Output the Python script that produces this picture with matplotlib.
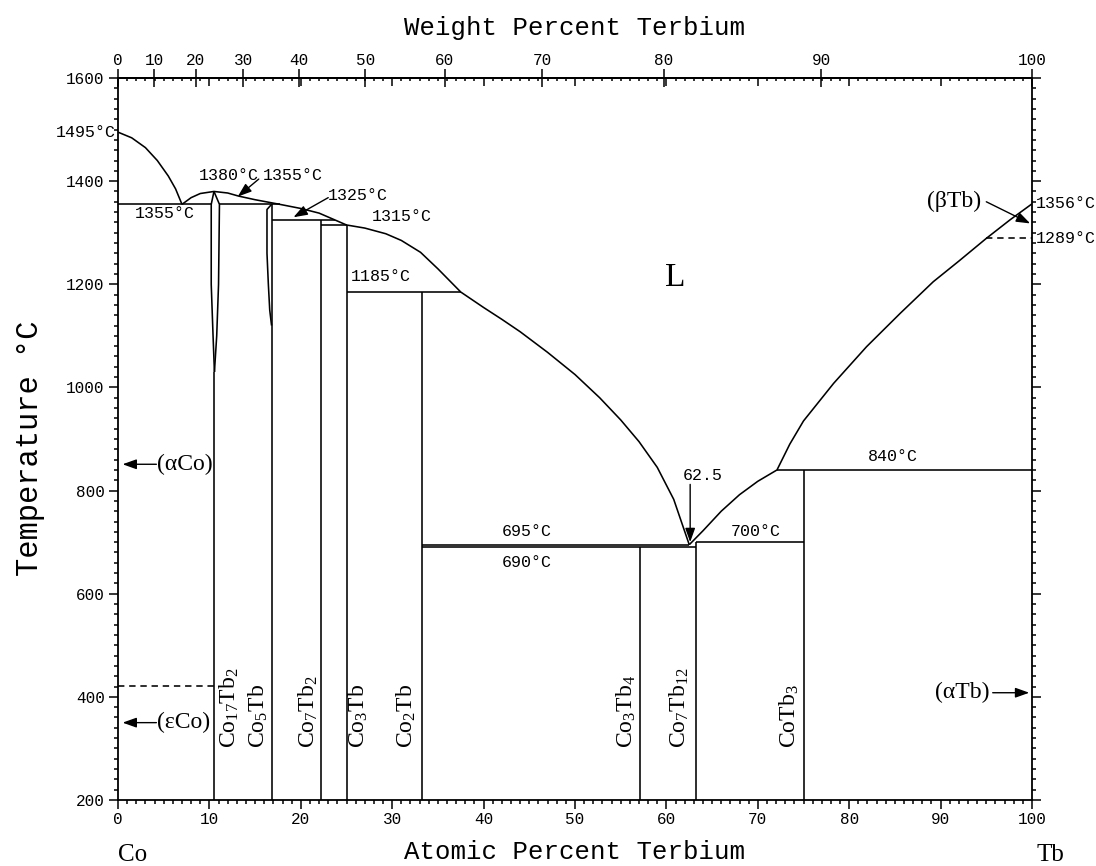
import numpy as np
import matplotlib.pyplot as plt
from matplotlib.ticker import MultipleLocator, NullLocator

plt.rcParams['font.family'] = 'Liberation Mono'
plt.rcParams['mathtext.fontset'] = 'custom'
plt.rcParams['mathtext.rm'] = 'Liberation Serif'
plt.rcParams['mathtext.it'] = 'Liberation Serif:italic'
plt.rcParams['mathtext.bf'] = 'Liberation Serif:bold'

M_CO = 58.933
M_TB = 158.925

# liquidus, Co side down to the first eutectic
liq_co_x = [0, 1.5, 3, 4.3, 5.5, 6.3, 7]
liq_co_t = [1495, 1484, 1465, 1440, 1410, 1385, 1355]

# liquidus from the Co-rich eutectic over Co17Tb2 down to the 62.5 eutectic
liq_mid_x = [7, 8, 9, 10.5, 12, 13.2, 15, 17.7, 20, 22, 23.7, 25, 27, 29.3, 31,
             33.1, 35, 37.5, 40, 42, 44, 47, 50, 52.7, 55, 57, 59, 60.8, 62.5]
liq_mid_t = [1355, 1368, 1376, 1380, 1377, 1371, 1364, 1355, 1347, 1338, 1325,
             1315, 1309, 1298, 1285, 1262, 1230, 1185, 1155, 1132, 1108, 1068,
             1025, 980, 937, 895, 845, 783, 695]

# liquidus, Tb side
liq_tb_x = [62.5, 64, 66, 68, 70, 72.1, 73.5, 75, 78.3, 81.9, 85.6, 89.2, 92,
            95, 97.6, 100]
liq_tb_t = [695, 722, 760, 792, 818, 840, 890, 935, 1008, 1079, 1144, 1205,
            1245, 1289, 1325, 1356]

# Co17Tb2 homogeneity range
co17_left_x = [10.5, 10.2, 10.2, 10.4, 10.55]
co17_left_t = [1380, 1355, 1200, 1100, 1030]
co17_right_x = [10.5, 11.1, 11.0, 10.8, 10.55]
co17_right_t = [1380, 1355, 1200, 1100, 1030]

# Co5Tb left boundary
co5_left_x = [16.8, 16.3, 16.3, 16.45, 16.6, 16.8]
co5_left_t = [1355, 1345, 1260, 1200, 1150, 1120]

# invariant lines: (x start, x end, temperature)
iso_x0 = [0, 11.1, 16.8, 22.2, 25.0, 33.3, 33.3, 63.2, 72.1]
iso_x1 = [10.2, 17.7, 23.7, 25.0, 37.5, 62.5, 63.2, 75.0, 100]
iso_t = [1355, 1355, 1325, 1315, 1185, 695, 690, 700, 840]

# compound lines: (composition, top temperature)
comp_x = [10.55, 16.8, 22.2, 25.0, 33.3, 57.1, 63.2, 75.0]
comp_top = [1030, 1355, 1325, 1315, 1185, 690, 700, 840]
comp_names = [r'Co$_{17}$Tb$_2$', r'Co$_5$Tb', r'Co$_7$Tb$_2$', r'Co$_3$Tb',
              r'Co$_2$Tb', r'Co$_3$Tb$_4$', r'Co$_7$Tb$_{12}$', r'CoTb$_3$']
comp_label_x = [12.2, 15.4, 20.8, 26.3, 31.5, 55.6, 61.4, 73.5]

# temperature labels: text, x, T, alignment
temp_labels = ['1355°C', '1380°C', '1355°C', '1325°C', '1315°C', '1185°C',
               '695°C', '690°C', '700°C', '840°C', '62.5']
temp_x = [5.1, 12.1, 15.9, 23.0, 31.0, 28.8, 44.7, 44.7, 69.8, 84.8, 64.0]
temp_t = [1338, 1411, 1411, 1372, 1332, 1215, 720, 661, 720, 866, 830]
temp_ha = ['center', 'center', 'left', 'left', 'center', 'center', 'center',
           'center', 'center', 'center', 'center']


def at_to_wt(a):
    a = np.asarray(a, dtype=float)
    with np.errstate(divide='ignore', invalid='ignore'):
        return 100 * a * M_TB / (a * M_TB + (100 - a) * M_CO)


def wt_to_at(w):
    w = np.asarray(w, dtype=float)
    with np.errstate(divide='ignore', invalid='ignore'):
        return 100 * (w / M_TB) / (w / M_TB + (100 - w) / M_CO)


fig = plt.figure(figsize=(10.96, 8.66), dpi=100)
ax = fig.add_axes([118 / 1096, 1 - 800 / 866, 914 / 1096, 722 / 866])
ax.set_xlim(0, 100)
ax.set_ylim(200, 1600)

lw = 1.15
kw = dict(color='black', lw=lw, solid_capstyle='butt')

ax.plot(liq_co_x, liq_co_t, **kw)
ax.plot(liq_mid_x, liq_mid_t, **kw)
ax.plot(liq_tb_x, liq_tb_t, **kw)
ax.plot(co17_left_x, co17_left_t, **kw)
ax.plot(co17_right_x, co17_right_t, **kw)
ax.plot(co5_left_x, co5_left_t, **kw)

for x0, x1, t in zip(iso_x0, iso_x1, iso_t):
    ax.plot([x0, x1], [t, t], **kw)

for x, top in zip(comp_x, comp_top):
    ax.plot([x, x], [200, top], **kw)

# dashed allotropic lines
ax.plot([0, 10.5], [422, 422], color='black', lw=lw, ls=(0, (4, 3)))
ax.plot([95, 100], [1289, 1289], color='black', lw=lw, ls=(0, (4, 3)))

for name, x in zip(comp_names, comp_label_x):
    ax.text(x, 300, name, rotation=90, ha='center', va='bottom', fontsize=17,
            family='Liberation Serif')

for s, x, t, ha in zip(temp_labels, temp_x, temp_t, temp_ha):
    ax.text(x, t, s, ha=ha, va='center', fontsize=12)

ax.text(-0.2, 1495, '1495°C', ha='right', va='center', fontsize=12)
ax.text(100.4, 1356, '1356°C', ha='left', va='center', fontsize=12)
ax.text(100.4, 1289, '1289°C', ha='left', va='center', fontsize=12)

serif = dict(family='Liberation Serif', fontsize=17, va='center')
ax.text(61.0, 1212, 'L', ha='center', family='Liberation Serif', fontsize=24,
        va='center')
ax.text(4.3, 851, '(αCo)', ha='left', **serif)
ax.text(4.3, 350, '(εCo)', ha='left', **serif)
ax.text(95.4, 408, '(αTb)', ha='right', **serif)
ax.text(94.4, 1360, '(βTb)', ha='right', **serif)

arrow = dict(arrowstyle='-|>,head_length=0.7,head_width=0.25', color='black',
             lw=1.0, mutation_scale=12, shrinkA=0, shrinkB=0)
ax.annotate('', xy=(0.5, 851), xytext=(4.2, 851), arrowprops=arrow)
ax.annotate('', xy=(0.5, 350), xytext=(4.2, 350), arrowprops=arrow)
ax.annotate('', xy=(99.7, 408), xytext=(95.7, 408), arrowprops=arrow)
ax.annotate('', xy=(99.8, 1318), xytext=(95.0, 1360), arrowprops=arrow)
ax.annotate('', xy=(13.1, 1370), xytext=(15.4, 1404), arrowprops=arrow)
ax.annotate('', xy=(19.2, 1330), xytext=(23.0, 1368), arrowprops=arrow)
ax.annotate('', xy=(62.6, 700), xytext=(62.6, 812), arrowprops=arrow)

# bottom / side axes: atomic percent and temperature
for sp in ax.spines.values():
    sp.set_linewidth(1.3)
ax.xaxis.set_major_locator(MultipleLocator(10))
ax.xaxis.set_minor_locator(MultipleLocator(1))
ax.yaxis.set_major_locator(MultipleLocator(200))
ax.yaxis.set_minor_locator(MultipleLocator(20))
ax.tick_params(which='both', direction='out', top=False, right=True,
               labelright=False, labelsize=11.5, width=1.1)
ax.tick_params(which='major', length=6.5)
ax.tick_params(which='minor', length=3)
ax.tick_params(axis='x', which='major', pad=2)
ax.tick_params(axis='y', which='major', pad=3)

# top axis: atomic percent ticks pointing inward
sec_at = ax.secondary_xaxis('top')
sec_at.xaxis.set_major_locator(MultipleLocator(10))
sec_at.xaxis.set_minor_locator(MultipleLocator(1))
sec_at.tick_params(which='both', direction='in', labeltop=False, width=1.1)
sec_at.tick_params(which='major', length=6)
sec_at.tick_params(which='minor', length=2.5)
sec_at.spines['top'].set_linewidth(1.3)

# top axis: weight percent labels
sec_wt = ax.secondary_xaxis('top', functions=(at_to_wt, wt_to_at))
sec_wt.set_xticks(np.arange(0, 101, 10))
sec_wt.xaxis.set_minor_locator(NullLocator())
sec_wt.tick_params(which='major', direction='inout', length=13, width=1.1,
                   labelsize=11.5, pad=1)
sec_wt.spines['top'].set_linewidth(1.3)

fig.text(575 / 1096, 1 - 28 / 866, 'Weight Percent Terbium', ha='center',
         va='center', fontsize=18.5)
fig.text(575 / 1096, 1 - 852 / 866, 'Atomic Percent Terbium', ha='center',
         va='center', fontsize=18.5)
fig.text(30 / 1096, 1 - 448 / 866, 'Temperature °C', ha='center', va='center',
         rotation=90, fontsize=22)
fig.text(133 / 1096, 1 - 855 / 866, 'Co', ha='center', va='center',
         family='Liberation Serif', fontsize=18)
fig.text(1050 / 1096, 1 - 855 / 866, 'Tb', ha='center', va='center',
         family='Liberation Serif', fontsize=18)

fig.savefig('out.png', dpi=100)
